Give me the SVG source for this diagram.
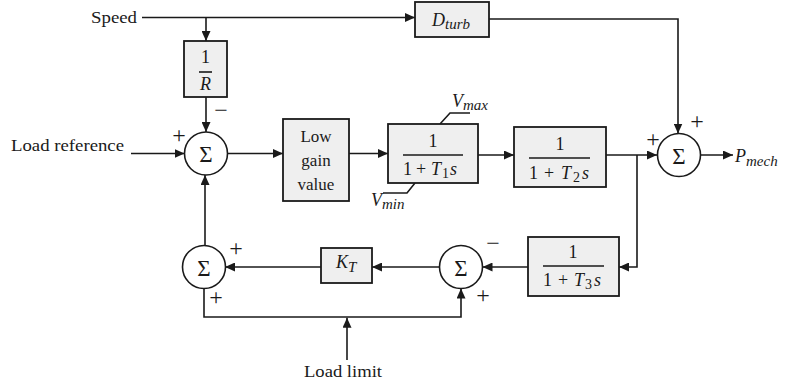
<svg xmlns="http://www.w3.org/2000/svg" width="785" height="385" viewBox="0 0 785 385" font-family="'Liberation Serif', 'Times New Roman', serif">
<defs>
<marker id="arr" markerUnits="userSpaceOnUse" markerWidth="11" markerHeight="9" refX="10" refY="4.5" orient="auto">
<path d="M0,0 L10,4.5 L0,9 z" fill="#1a1a1a"/>
</marker>
<style>
.box{fill:#efefef;stroke:#1a1a1a;stroke-width:1.8}
.sum{fill:#ffffff;stroke:#1a1a1a;stroke-width:1.6}
.ln{fill:none;stroke:#1a1a1a;stroke-width:1.6}
.ar{marker-end:url(#arr)}
.t{font-size:17px;fill:#1a1a1a}
.m{font-size:18px;fill:#1a1a1a}
.mi{font-size:18px;font-style:italic;fill:#1a1a1a}
.sub{font-size:15px;font-style:italic;fill:#1a1a1a}
.subn{font-size:14px;font-style:normal;fill:#1a1a1a}
.sig{font-size:23px;fill:#1a1a1a;text-anchor:middle}
.sg{font-size:24px;fill:#1a1a1a;text-anchor:middle}
.c{text-anchor:middle}
</style>
</defs>
<rect width="785" height="385" fill="#ffffff"/>

<g id="connectors">
<line class="ln ar" x1="142" y1="17.5" x2="415" y2="17.5"/>
<line class="ln ar" x1="206" y1="17.5" x2="206" y2="41"/>
<line class="ln ar" x1="206" y1="97" x2="206" y2="132"/>
<line class="ln ar" x1="131" y1="153.5" x2="184.5" y2="153.5"/>
<line class="ln ar" x1="227.5" y1="153.5" x2="283" y2="153.5"/>
<line class="ln ar" x1="349" y1="153.5" x2="388" y2="153.5"/>
<line class="ln ar" x1="478" y1="155" x2="514" y2="155"/>
<line class="ln ar" x1="606" y1="155" x2="657" y2="155"/>
<polyline class="ln ar" points="489,19 678,19 678,133.5"/>
<line class="ln ar" x1="700.5" y1="155" x2="733" y2="155"/>
<polyline class="ln ar" points="637,155 637,267 619,267"/>
<line class="ln ar" x1="528" y1="267" x2="482.5" y2="267"/>
<line class="ln ar" x1="439.5" y1="267" x2="372" y2="267"/>
<line class="ln ar" x1="321" y1="267" x2="225" y2="267"/>
<line class="ln ar" x1="205" y1="245.5" x2="205" y2="175"/>
<polyline class="ln ar" points="204,288.5 204,317 461,317 461,288.5"/>
<line class="ln ar" x1="347" y1="360" x2="347" y2="317.8"/>
<polyline class="ln" points="440,124 450,113 470,113"/>
<polyline class="ln" points="415,183 407,193 383,193"/>
</g>

<g id="speed-label"><text class="t" x="91" y="23" textLength="46" lengthAdjust="spacingAndGlyphs">Speed</text></g>
<g id="load-reference-label"><text class="t" x="11" y="151" textLength="113" lengthAdjust="spacingAndGlyphs">Load reference</text></g>
<g id="load-limit-label"><text class="t" x="304" y="377" textLength="78" lengthAdjust="spacingAndGlyphs">Load limit</text></g>

<g id="droop">
<rect class="box" x="184" y="41" width="43" height="56"/>
<text class="m c" x="205.5" y="63">1</text>
<line class="ln" x1="199" y1="72" x2="212" y2="72"/>
<text class="mi c" x="205.5" y="90">R</text>
</g>

<g id="dturb">
<rect class="box" x="415" y="2" width="74" height="35"/>
<text class="mi" x="432" y="26">D<tspan class="sub" dy="3">turb</tspan></text>
</g>

<g id="sum1">
<circle class="sum" cx="206" cy="153.5" r="21.5"/>
<text class="sig" x="206" y="162">Σ</text>
<text class="sg" x="179" y="143">+</text>
<text class="sg" x="221" y="118">−</text>
</g>

<g id="low-gain">
<rect class="box" x="283" y="119" width="66" height="82"/>
<text class="t c" x="316" y="142">Low</text>
<text class="t c" x="316" y="166">gain</text>
<text class="t c" x="316" y="190">value</text>
</g>

<g id="lag1">
<rect class="box" x="388" y="124" width="90" height="59"/>
<text class="m c" x="433" y="147">1</text>
<line class="ln" x1="403" y1="155" x2="463" y2="155"/>
<text class="m" y="175"><tspan x="403">1</tspan><tspan x="416">+</tspan><tspan class="mi" x="431">T</tspan><tspan class="subn" x="442" dy="3">1</tspan><tspan class="mi" x="450" dy="-3">s</tspan></text>
</g>
<g id="vmax"><text class="mi" x="452" y="107">V<tspan class="sub" dy="3">max</tspan></text></g>
<g id="vmin"><text class="mi" x="371" y="206">V<tspan class="sub" dy="3">min</tspan></text></g>

<g id="lag2">
<rect class="box" x="514" y="127" width="92" height="60"/>
<text class="m c" x="560" y="150">1</text>
<line class="ln" x1="529" y1="158" x2="590" y2="158"/>
<text class="m" y="179"><tspan x="529">1</tspan><tspan x="544">+</tspan><tspan class="mi" x="561">T</tspan><tspan class="subn" x="573" dy="3">2</tspan><tspan class="mi" x="582" dy="-3">s</tspan></text>
</g>

<g id="sum-out">
<circle class="sum" cx="679" cy="155" r="21.5"/>
<text class="sig" x="679" y="163.5">Σ</text>
<text class="sg" x="653" y="147">+</text>
<text class="sg" x="697" y="129">+</text>
</g>
<g id="pmech"><text class="mi" x="735" y="162">P<tspan class="sub" dy="4">mech</tspan></text></g>

<g id="lag3">
<rect class="box" x="528" y="237" width="91" height="59"/>
<text class="m c" x="573" y="258">1</text>
<line class="ln" x1="543" y1="266" x2="604" y2="266"/>
<text class="m" y="286"><tspan x="543">1</tspan><tspan x="558">+</tspan><tspan class="mi" x="574">T</tspan><tspan class="subn" x="585" dy="3">3</tspan><tspan class="mi" x="594" dy="-3">s</tspan></text>
</g>

<g id="sum-mid">
<circle class="sum" cx="461" cy="267" r="21.5"/>
<text class="sig" x="461" y="275.5">Σ</text>
<text class="sg" x="493" y="251">−</text>
<text class="sg" x="483" y="303">+</text>
</g>

<g id="kt">
<rect class="box" x="321" y="248" width="51" height="35"/>
<text class="mi" x="336" y="268">K<tspan class="sub" dy="4">T</tspan></text>
</g>

<g id="sum-left">
<circle class="sum" cx="204" cy="267" r="21.5"/>
<text class="sig" x="204" y="275.5">Σ</text>
<text class="sg" x="236" y="256">+</text>
<text class="sg" x="216" y="305">+</text>
</g>
</svg>
